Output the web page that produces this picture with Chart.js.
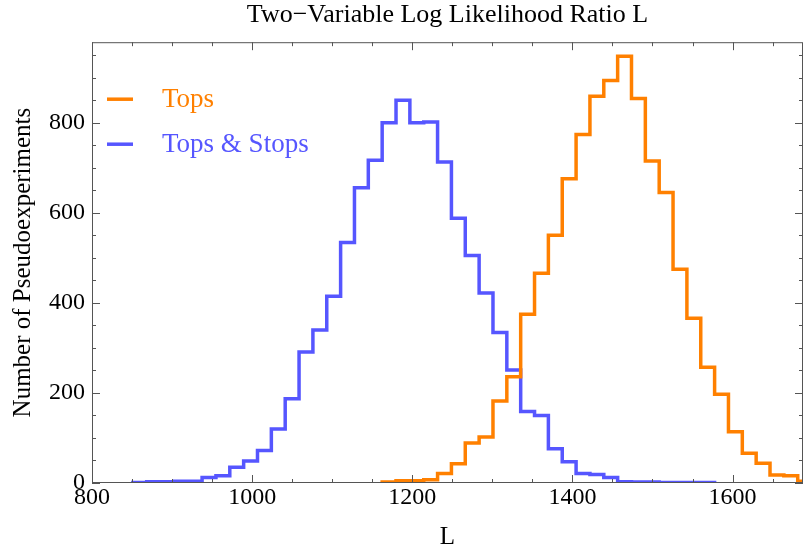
<!DOCTYPE html>
<html>
<head>
<meta charset="utf-8">
<script src="https://cdn.jsdelivr.net/npm/chart.js@4.4.0/dist/chart.umd.min.js"></script>
<style>
  html, body { margin: 0; padding: 0; background: #fff; }
  #wrap { width: 804px; height: 552px; }
</style>
</head>
<body>
<div id="wrap"><canvas id="chart"></canvas></div>
<script>
// Histogram bins (L units): left edge of first bin and bin width
const binStart = 851;
const binWidth = 17.3;

// Counts per bin, null where the series has no histogram
const topsCounts = [
  null, null, null, null, null, null, null, null, null, null,
  null, null, null, null, null, null, null, null, 2, 5,
  5, 7, 21, 43, 89, 102, 182, 236, 375, 466,
  550, 676, 774, 859, 894, 948, 854, 715, 645, 475,
  366, 257, 197, 114, 66, 44, 18, 16, 4
];
const stopsCounts = [
  1, 3, 3, 4, 4, 12, 16, 35, 49, 72,
  120, 187, 291, 340, 415, 534, 656, 717, 800, 850,
  800, 802, 713, 588, 505, 422, 334, 251, 159, 150,
  76, 47, 21, 19, 12, 3, 2, 2, 1, 1,
  1, 1
];

const xTicks = [800, 1000, 1200, 1400, 1600];
const yTicks = [0, 200, 400, 600, 800];

const serif = "'Liberation Serif', 'DejaVu Serif', serif";
const orange = '#ff8000';
const blue = '#5656ff';

function histPoints(counts) {
  const pts = [];
  let last = -1;
  counts.forEach((c, k) => {
    if (c === null) return;
    const x = binStart + k * binWidth;
    if (!pts.length) pts.push({ x: x, y: 0 });
    pts.push({ x: x, y: c });
    last = k;
  });
  const xEnd = binStart + (last + 1) * binWidth;
  pts.push({ x: xEnd, y: counts[last] });
  pts.push({ x: xEnd, y: 0 });
  return pts;
}

// Box frame with inward ticks on all four sides
const framePlugin = {
  id: 'frame',
  afterDatasetsDraw(chart) {
    const { ctx, chartArea: a, scales } = chart;
    const xs = scales.x, ys = scales.y;
    ctx.save();
    ctx.strokeStyle = '#555';
    ctx.lineWidth = 1;
    ctx.strokeRect(a.left + 0.5, a.top + 0.5, a.right - a.left - 1, a.bottom - a.top - 1);
    ctx.beginPath();
    for (let v = xs.min; v <= xs.max; v += 50) {
      const len = v % 200 === 0 ? 8 : 4;
      const px = Math.round(xs.getPixelForValue(v)) + 0.5;
      ctx.moveTo(px, a.bottom); ctx.lineTo(px, a.bottom - len);
      ctx.moveTo(px, a.top); ctx.lineTo(px, a.top + len);
    }
    for (let v = 0; v <= ys.max; v += 50) {
      const len = v % 200 === 0 ? 8 : 4;
      const py = Math.round(ys.getPixelForValue(v)) + 0.5;
      ctx.moveTo(a.left, py); ctx.lineTo(a.left + len, py);
      ctx.moveTo(a.right, py); ctx.lineTo(a.right - len, py);
    }
    ctx.stroke();
    ctx.restore();
  }
};

// Legend drawn inside the plot, top left
const insideLegend = {
  id: 'insideLegend',
  afterDraw(chart) {
    const { ctx, chartArea: a } = chart;
    ctx.save();
    chart.data.datasets.forEach((ds, i) => {
      const y = a.top + 57 + i * 45;
      ctx.strokeStyle = ds.borderColor;
      ctx.lineWidth = 3.5;
      ctx.beginPath();
      ctx.moveTo(a.left + 15, y);
      ctx.lineTo(a.left + 41, y);
      ctx.stroke();
      ctx.fillStyle = ds.borderColor;
      ctx.font = '27px ' + serif;
      ctx.textBaseline = 'alphabetic';
      ctx.fillText(ds.label, a.left + 70, y + 8);
    });
    ctx.restore();
  }
};

const ctx = document.getElementById('chart').getContext('2d');
const chart = new Chart(ctx, {
  type: 'line',
  data: {
    datasets: [
      {
        label: 'Tops',
        data: histPoints(topsCounts),
        borderColor: orange,
        borderWidth: 3.5,
        pointRadius: 0,
        stepped: true,
        fill: false
      },
      {
        label: 'Tops & Stops',
        data: histPoints(stopsCounts),
        borderColor: blue,
        borderWidth: 3.5,
        pointRadius: 0,
        stepped: true,
        fill: false
      }
    ]
  },
  options: {
    responsive: true,
    maintainAspectRatio: false,
    animation: false,
    layout: { padding: { top: 0, right: 1, left: 0, bottom: 0 } },
    plugins: {
      legend: { display: false },
      tooltip: { enabled: false },
      title: {
        display: true,
        fullSize: false,
        text: 'Two\u2212Variable Log Likelihood Ratio L',
        color: '#000',
        font: { family: serif, size: 26, weight: 'normal' },
        padding: { top: 0, bottom: 11 }
      }
    },
    scales: {
      x: {
        type: 'linear',
        min: 800,
        max: 1688,
        afterBuildTicks: s => { s.ticks = xTicks.map(v => ({ value: v })); },
        afterFit: s => { s.height = 69; },
        grid: { display: false, drawTicks: false },
        border: { display: false },
        ticks: {
          color: '#000',
          font: { family: serif, size: 24 },
          padding: 0,
          maxRotation: 0,
          callback: v => String(v)
        },
        title: {
          display: true,
          text: 'L',
          color: '#000',
          font: { family: serif, size: 25 },
          padding: 0
        }
      },
      y: {
        min: 0,
        max: 979,
        afterBuildTicks: s => { s.ticks = yTicks.map(v => ({ value: v })); },
        afterFit: s => { s.width = 92; },
        grid: { display: false, drawTicks: false },
        border: { display: false },
        ticks: {
          color: '#000',
          font: { family: serif, size: 24 },
          padding: 7,
          callback: v => String(v)
        },
        title: {
          display: true,
          text: 'Number of Pseudoexperiments',
          color: '#000',
          font: { family: serif, size: 25 },
          padding: 8
        }
      }
    }
  },
  plugins: [framePlugin, insideLegend]
});
</script>
</body>
</html>
